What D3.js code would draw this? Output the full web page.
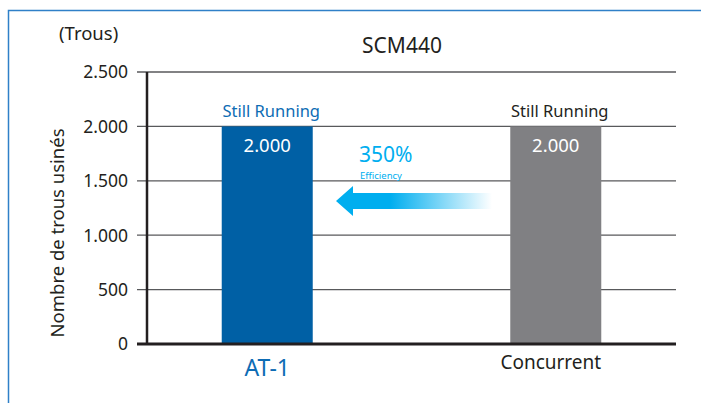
<!DOCTYPE html>
<html>
<head>
<meta charset="utf-8">
<script src="https://cdn.jsdelivr.net/npm/d3@7"></script>
<style>
  body { margin: 0; background: #fff; }
  svg { display: block; font-family: "Noto Sans", sans-serif; }
</style>
</head>
<body>
<svg width="701" height="403"></svg>
<script>
// data
const categories = ["AT-1", "Concurrent"];
const values = [2000, 2000];
const barLabels = ["2.000", "2.000"];
const topLabels = ["Still Running", "Still Running"];
const barColors = ["#0060a5", "#808083"];
const catColors = ["#0d6cb4", "#231f20"];
const yTicks = [0, 500, 1000, 1500, 2000, 2500];
const yTickLabels = ["0", "500", "1.000", "1.500", "2.000", "2.500"];

const svg = d3.select("svg");

// frame
svg.append("path")
  .attr("d", "M8.5,403 L8.5,10.5 L701,10.5")
  .attr("fill", "none")
  .attr("stroke", "#2f80c8")
  .attr("stroke-width", 1.5);

const x = d3.scaleBand().domain(categories).range([147, 676])
  .paddingInner(0.6846).paddingOuter(0.259);
const y = d3.scaleLinear().domain([0, 2500]).range([344, 72]);

// grid lines
svg.append("g").selectAll("line")
  .data(yTicks.filter(d => d > 0))
  .join("line")
  .attr("x1", 137).attr("x2", 676)
  .attr("y1", d => y(d)).attr("y2", d => y(d))
  .attr("stroke", "#58595b").attr("stroke-width", 1.3);

// tick labels
svg.append("g").selectAll("text")
  .data(yTicks)
  .join("text")
  .attr("x", 128).attr("y", d => y(d))
  .attr("dy", "0.36em")
  .attr("text-anchor", "end")
  .attr("font-size", 17.5)
  .attr("fill", "#231f20")
  .text((d, i) => yTickLabels[i]);

// bars
svg.append("g").selectAll("rect")
  .data(values)
  .join("rect")
  .attr("x", (d, i) => x(categories[i]))
  .attr("width", x.bandwidth())
  .attr("y", d => y(d))
  .attr("height", d => y(0) - y(d))
  .attr("fill", (d, i) => barColors[i]);

// value labels in bars
svg.append("g").selectAll("text")
  .data(values)
  .join("text")
  .attr("x", (d, i) => x(categories[i]) + x.bandwidth() / 2)
  .attr("y", d => y(d) + 26)
  .attr("text-anchor", "middle")
  .attr("font-size", 18.5)
  .attr("fill", "#fff")
  .text((d, i) => barLabels[i]);

// "Still Running" labels
svg.append("g").selectAll("text")
  .data(values)
  .join("text")
  .attr("x", (d, i) => x(categories[i]) + x.bandwidth() / 2 + 4)
  .attr("y", d => y(d) - 9)
  .attr("text-anchor", "middle")
  .attr("font-size", 16.5)
  .attr("fill", (d, i) => catColors[i])
  .text((d, i) => topLabels[i]);

// baseline and y axis line
svg.append("line")
  .attr("x1", 137).attr("x2", 676)
  .attr("y1", y(0)).attr("y2", y(0))
  .attr("stroke", "#231f20").attr("stroke-width", 3);
svg.append("line")
  .attr("x1", 147).attr("x2", 147)
  .attr("y1", y(2500)).attr("y2", y(0))
  .attr("stroke", "#231f20").attr("stroke-width", 2.5);

// category labels
svg.append("text")
  .attr("x", x("AT-1") + x.bandwidth() / 2).attr("y", 376)
  .attr("text-anchor", "middle").attr("font-size", 23)
  .attr("fill", catColors[0]).text(categories[0]);
svg.append("text")
  .attr("x", x("Concurrent") + x.bandwidth() / 2 - 5).attr("y", 369)
  .attr("text-anchor", "middle").attr("font-size", 19)
  .attr("fill", catColors[1]).text(categories[1]);

// titles
svg.append("text")
  .attr("x", 402).attr("y", 53)
  .attr("text-anchor", "middle").attr("font-size", 21)
  .attr("fill", "#231f20").text("SCM440");
svg.append("text")
  .attr("x", 59).attr("y", 40)
  .attr("font-size", 18.5)
  .attr("fill", "#231f20").text("(Trous)");
svg.append("text")
  .attr("transform", "translate(64,233) rotate(-90)")
  .attr("text-anchor", "middle").attr("font-size", 18.5)
  .attr("fill", "#231f20").text("Nombre de trous usinés");

// efficiency arrow
const defs = svg.append("defs");
const grad = defs.append("linearGradient").attr("id", "arrowGrad")
  .attr("x1", "0%").attr("x2", "100%");
grad.append("stop").attr("offset", "0%").attr("stop-color", "#00aeef");
grad.append("stop").attr("offset", "35%").attr("stop-color", "#00aeef");
grad.append("stop").attr("offset", "100%").attr("stop-color", "#00aeef").attr("stop-opacity", 0);

svg.append("path")
  .attr("d", "M336,201 L353,186 L353,193 L492,193 L492,209 L353,209 L353,216 Z")
  .attr("fill", "url(#arrowGrad)");

svg.append("text")
  .attr("x", 359).attr("y", 162)
  .attr("font-size", 21).attr("fill", "#00aeef").text("350%");
svg.append("text")
  .attr("x", 360).attr("y", 179)
  .attr("font-size", 9.5).attr("fill", "#00aeef").text("Efficiency");
</script>
</body>
</html>
